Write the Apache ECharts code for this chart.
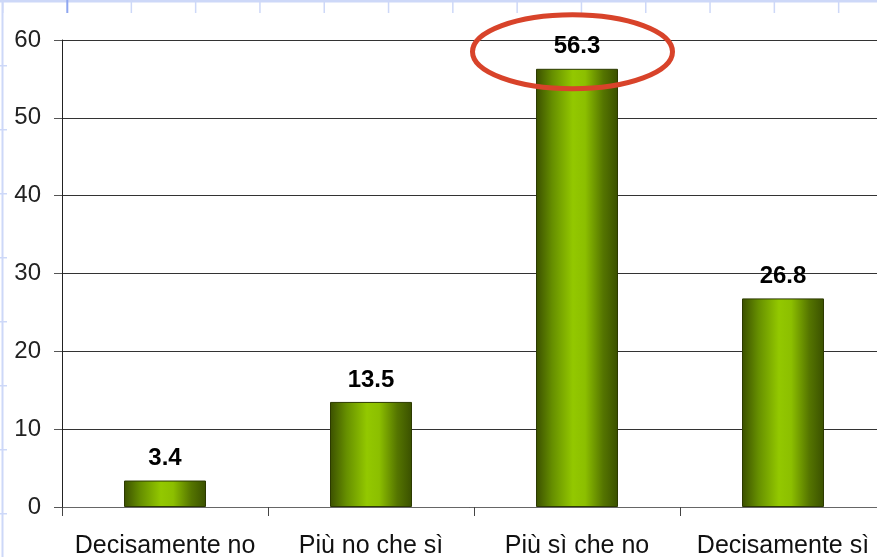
<!DOCTYPE html>
<html>
<head>
<meta charset="utf-8">
<script src="https://cdn.jsdelivr.net/npm/echarts@6/dist/echarts.min.js"></script>
<style>
html,body{margin:0;padding:0;background:#fff;}
#c{width:877px;height:557px;}
</style>
</head>
<body>
<div id="c"></div>
<script>
const categories = ['Decisamente no', 'Più no che sì', 'Più sì che no', 'Decisamente sì'];
const values = [3.4, 13.5, 56.3, 26.8];
const yTicks = [0, 10, 20, 30, 40, 50, 60];
const highlightIndex = 2;

const chart = echarts.init(document.getElementById('c'), null, {renderer: 'canvas'});
const font = 'Liberation Sans, Arial, sans-serif';

const barColor = new echarts.graphic.LinearGradient(0, 0, 1, 0, [
  {offset: 0, color: '#3b5000'},
  {offset: 0.2, color: '#668f00'},
  {offset: 0.45, color: '#93c800'},
  {offset: 0.6, color: '#8cbf00'},
  {offset: 0.82, color: '#557500'},
  {offset: 1, color: '#3a5000'}
]);

// spreadsheet-like decoration at top and left
const deco = [];
const blue = '#cdd8f8';
deco.push({type: 'rect', shape: {x: 0, y: 0, width: 877, height: 2.5}, style: {fill: blue}, z: 1});
deco.push({type: 'rect', shape: {x: 1.5, y: 0, width: 2, height: 557}, style: {fill: blue}, z: 1});
for (let i = 0; i < 14; i++) {
  const x = 2 + i * 64.3;
  deco.push({type: 'rect', shape: {x: x, y: 0, width: i === 1 ? 2 : 1.5, height: 13}, style: {fill: i === 1 ? '#8fa6f0' : blue}, z: 1});
}
for (let j = 0; j < 8; j++) {
  const y = 65 + j * 64;
  deco.push({type: 'rect', shape: {x: 0, y: y, width: 7, height: 1.5}, style: {fill: blue}, z: 1});
}

chart.setOption({
  animation: false,
  backgroundColor: '#ffffff',
  grid: {left: 62, width: 824, top: 40, height: 467, containLabel: false, outerBoundsMode: 'none'},
  xAxis: {
    type: 'category',
    data: categories,
    axisLine: {lineStyle: {color: '#666', width: 1}},
    axisTick: {show: true, length: 9, lineStyle: {color: '#444'}},
    axisLabel: {color: '#111', fontSize: 25, fontFamily: font, margin: 27, interval: 0}
  },
  yAxis: {
    type: 'value',
    min: 0, max: 60, interval: 10,
    axisLine: {show: true, lineStyle: {color: '#222', width: 1}},
    axisTick: {show: true, length: 8, lineStyle: {color: '#555'}},
    axisLabel: {color: '#222', fontSize: 24, fontFamily: font, margin: 21,
      formatter: v => yTicks.includes(v) ? String(v) : ''},
    splitLine: {show: true, lineStyle: {color: '#333', width: 1}}
  },
  series: [{
    type: 'bar',
    data: values,
    barWidth: 82,
    itemStyle: {color: barColor, borderColor: '#2c3a00', borderWidth: 1},
    label: {show: true, position: 'top', distance: 10, color: '#000',
      fontSize: 24, fontWeight: 'bold', fontFamily: font}
  }],
  graphic: deco
});

const p = chart.convertToPixel({seriesIndex: 0}, [highlightIndex, values[highlightIndex]]);
deco.push({
  type: 'ellipse',
  shape: {cx: p[0] - 4.5, cy: p[1] - 17, rx: 100, ry: 37},
  style: {fill: 'none', stroke: '#d8432a', lineWidth: 5},
  z: 100
});
chart.setOption({graphic: deco});
</script>
</body>
</html>
